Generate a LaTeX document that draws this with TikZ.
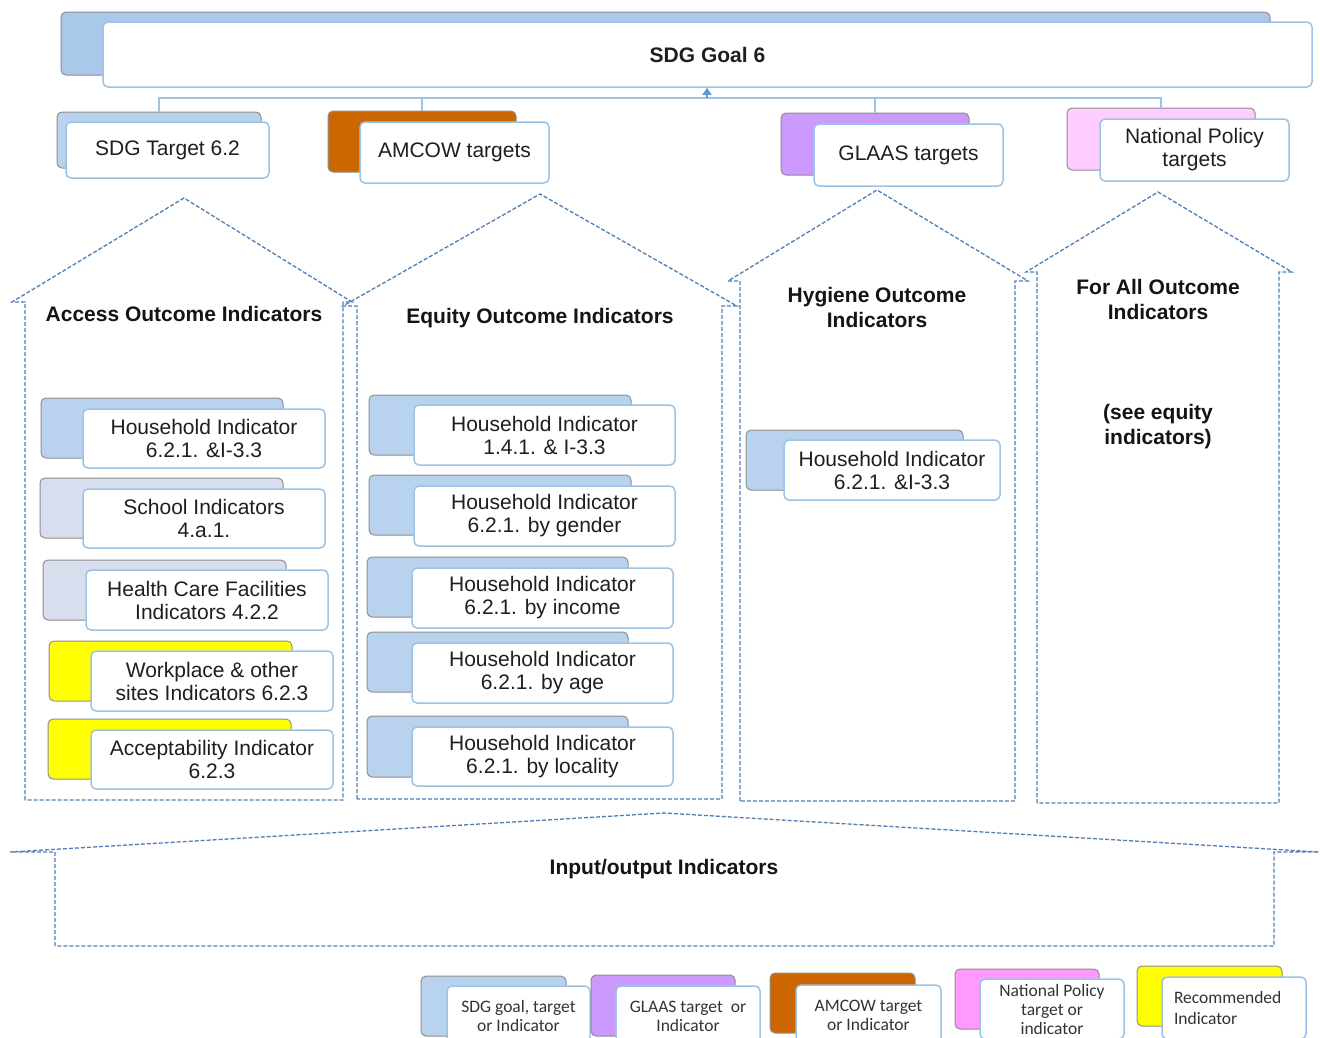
\documentclass[tikz,border=0pt]{standalone}
\usepackage{fontspec}
\setmainfont{Liberation Sans}
\newfontfamily\legfont{Carlito}
\usetikzlibrary{arrows.meta}
\definecolor{bluefill}{HTML}{B9D3EE}
\definecolor{goalfill}{HTML}{A9C8EA}
\definecolor{backline}{HTML}{8E8E8E}
\definecolor{frontline}{HTML}{9DC3E6}
\definecolor{dashblue}{HTML}{4F7FB5}
\definecolor{orangefill}{HTML}{CC6600}
\definecolor{purplefill}{HTML}{CC99FF}
\definecolor{pinkfill}{HTML}{FFCCFF}
\definecolor{pinkleg}{HTML}{FF99FF}
\definecolor{yellowfill}{HTML}{FFFF00}
\definecolor{grayfill}{HTML}{D9DEEF}
\definecolor{connblue}{HTML}{9DC3E6}
\definecolor{arrblue}{HTML}{5B9BD5}
\tikzset{
 backbox/.style={draw=backline, line width=1pt, rounded corners=5pt, inner sep=0pt},
 frontbox/.style={draw=frontline, fill=white, line width=1.5pt, rounded corners=5pt, inner sep=0pt, align=center, font=\fontsize{21}{23}\selectfont, text=black!88},
 legbox/.style={frontbox, font=\legfont\fontsize{17.5}{19}\selectfont, text=black!80},
 dasharrow/.style={draw=dashblue, line width=1.3pt, dash pattern=on 4pt off 2pt, line join=miter},
 heading/.style={font=\bfseries\fontsize{21}{25}\selectfont, align=center, text=black!92},
 conn/.style={draw=connblue, line width=1.6pt},
}
\newcommand{\mybox}[7]{\node[#1, minimum width={#5-#3}, minimum height={#6-#4}] (#2) at ({(#3+#5)/2},{(#4+#6)/2}) {#7};}
\newcommand{\blockup}[8]{\draw[dasharrow] (#1,#8) -- (#1,#3) -- (#4,#3) -- (#6,#7) -- (#5,#3) -- (#2,#3) -- (#2,#8) -- cycle;}
\begin{document}
\begin{tikzpicture}[x=1pt,y=-1pt]
\useasboundingbox (0,0) rectangle (1320,1037);
\clip (0,0) rectangle (1320,1037);
\fill[white] (0,0) rectangle (1320,1037);

% block arrows
\blockup{25}{343}{302}{12}{352}{184}{198}{800}
\blockup{357}{722}{306}{343}{737}{540}{194}{799}
\blockup{740}{1015}{281}{728}{1028}{877}{190}{801}
\blockup{1037}{1279}{272}{1026}{1292}{1158}{192}{803}
\blockup{55}{1274}{852}{10}{1319}{664}{813}{946}

% goal
\mybox{backbox,fill=goalfill}{goalback}{61}{12}{1270}{75}{}
\mybox{frontbox,font=\bfseries\fontsize{21}{24}\selectfont}{goal}{103}{22}{1312}{87}{SDG Goal 6}

% targets
\mybox{backbox,fill=bluefill}{tb1}{57}{112}{261}{168}{}
\mybox{frontbox}{t1}{66}{122}{269}{178}{SDG Target 6.2}
\mybox{backbox,fill=orangefill}{tb2}{328}{111}{516}{172}{}
\mybox{frontbox}{t2}{360}{122}{549}{183}{AMCOW targets}
\mybox{backbox,fill=purplefill}{tb3}{781}{113}{969}{175}{}
\mybox{frontbox}{t3}{814}{124}{1003}{186}{GLAAS targets}
\mybox{backbox,fill=pinkfill}{tb4}{1067}{108}{1255}{170}{}
\mybox{frontbox}{t4}{1100}{119}{1289}{181}{National Policy\\targets}

% connectors
\coordinate (hub) at (707,98);
\draw[conn] (tb1.north) -- (tb1.north |- hub) -- (tb4.north |- hub) -- (tb4.north);
\draw[conn] (tb2.north) -- (tb2.north |- hub);
\draw[conn] (tb3.north) -- (tb3.north |- hub);
\draw[draw=arrblue, line width=1.5pt, -{Triangle[width=9pt,length=7pt]}] (hub) -- (hub |- goal.south);

% headings
\node[heading] (acch) at (184,314) {Access Outcome Indicators};
\node[heading] (eqh) at (540,318) {Equity Outcome Indicators};
\node[heading] (hyh) at (877,307) {Hygiene Outcome\\Indicators};
\node[heading] (fah) at (1158,299) {For All Outcome\\Indicators};
\node[heading] (see) at (1158,427) {(see equity\\indicators)};
\node[heading] (ioh) at (664,869) {Input/output Indicators};

% access column
\mybox{backbox,fill=bluefill}{a1b}{41}{398}{283}{458}{}
\mybox{frontbox}{a1}{83}{409}{325}{468}{Household Indicator\\6.2.1. \&I-3.3}
\mybox{backbox,fill=grayfill}{a2b}{40}{478}{283}{538}{}
\mybox{frontbox}{a2}{83}{489}{325}{548}{School Indicators\\4.a.1.}
\mybox{backbox,fill=grayfill}{a3b}{43}{560}{286}{620}{}
\mybox{frontbox}{a3}{86}{570}{328}{630}{Health Care Facilities\\Indicators 4.2.2}
\mybox{backbox,fill=yellowfill}{a4b}{49}{641}{292}{701}{}
\mybox{frontbox}{a4}{91}{651}{333}{711}{Workplace \& other\\sites Indicators 6.2.3}
\mybox{backbox,fill=yellowfill}{a5b}{48}{719}{291}{779}{}
\mybox{frontbox}{a5}{91}{730}{333}{789}{Acceptability Indicator\\6.2.3}

% equity column
\mybox{backbox,fill=bluefill}{e1b}{369}{395}{631}{455}{}
\mybox{frontbox}{e1}{414}{405}{675}{465}{Household Indicator\\1.4.1. \& I-3.3}
\mybox{backbox,fill=bluefill}{e2b}{369}{475}{631}{535}{}
\mybox{frontbox}{e2}{414}{486}{675}{546}{Household Indicator\\6.2.1. by gender}
\mybox{backbox,fill=bluefill}{e3b}{367}{557}{628}{617}{}
\mybox{frontbox}{e3}{412}{568}{673}{628}{Household Indicator\\6.2.1. by income}
\mybox{backbox,fill=bluefill}{e4b}{367}{632}{628}{692}{}
\mybox{frontbox}{e4}{412}{643}{673}{703}{Household Indicator\\6.2.1. by age}
\mybox{backbox,fill=bluefill}{e5b}{367}{716}{628}{777}{}
\mybox{frontbox}{e5}{412}{727}{673}{786}{Household Indicator\\6.2.1. by locality}

% hygiene column
\mybox{backbox,fill=bluefill}{hb}{746}{430}{963}{490}{}
\mybox{frontbox}{h1}{784}{440}{1000}{500}{Household Indicator\\6.2.1. \&I-3.3}

% legend
\mybox{backbox,fill=bluefill}{l1b}{421}{976}{566}{1036}{}
\mybox{legbox}{l1}{447}{986}{590}{1046}{SDG goal, target\\or Indicator}
\mybox{backbox,fill=purplefill}{l2b}{591}{975}{735}{1036}{}
\mybox{legbox}{l2}{616}{986}{760}{1046}{GLAAS target\ \ or\\Indicator}
\mybox{backbox,fill=orangefill}{l3b}{770}{973}{915}{1033}{}
\mybox{legbox}{l3}{796}{985}{941}{1045}{AMCOW target\\or Indicator}
\mybox{backbox,fill=pinkleg}{l4b}{955}{969}{1099}{1029}{}
\mybox{legbox}{l4}{980}{979}{1124}{1039}{National Policy\\target or\\indicator}
\mybox{backbox,fill=yellowfill}{l5b}{1137}{966}{1282}{1026}{}
\mybox{legbox,align=left,text width=120pt}{l5}{1162}{977}{1306}{1039}{Recommended\\[2pt]Indicator}
\end{tikzpicture}
\end{document}
